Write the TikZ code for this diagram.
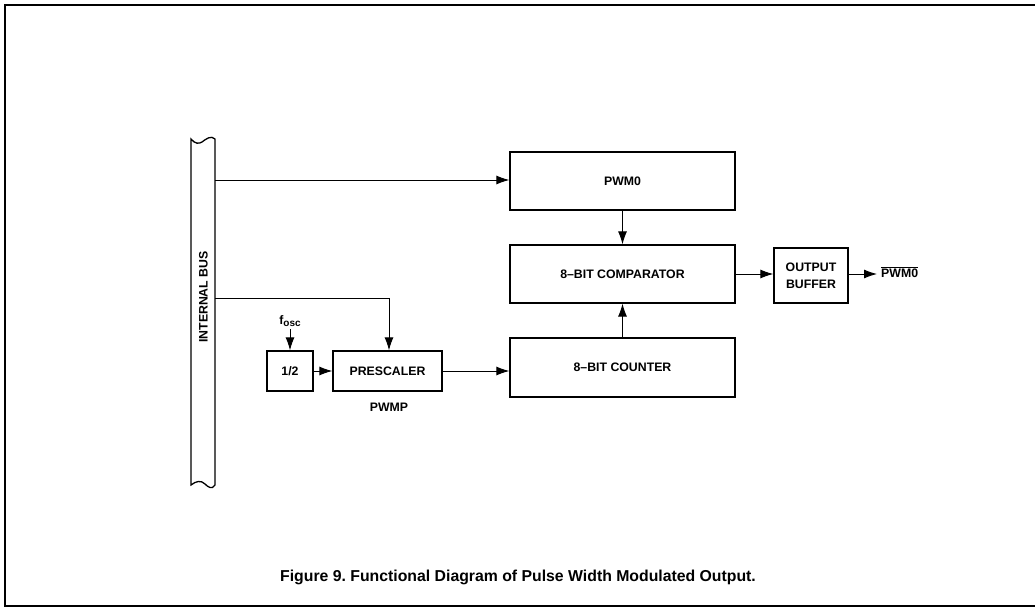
\documentclass[tikz,border=0pt]{standalone}
\usepackage{fontspec}
\setmainfont{Liberation Sans}
\usetikzlibrary{arrows.meta}
\frenchspacing
\begin{document}
\begin{tikzpicture}[x=1pt,y=-1pt,
  blk/.style={draw,line width=1.3pt,inner sep=0pt,font=\fontsize{12.3}{15}\selectfont\bfseries},
  lbl/.style={inner sep=0pt,font=\fontsize{12.3}{15}\selectfont\bfseries},
  conn/.style={line width=0.9pt,-{Latex[length=13pt,width=9pt]}},
  wire/.style={line width=0.9pt}]
\useasboundingbox (0,0) rectangle (1035,609);
% frame
\draw[line width=1.3pt] (1035,5) -- (5,5) -- (5,606) -- (1035,606);
% internal bus
\draw[line width=1.3pt] (191,139) .. controls (195,144) and (199,144) .. (202,142)
  .. controls (206,139) and (211,135) .. (215,139) -- (215,485)
  .. controls (212,490) and (208,487) .. (205,484)
  .. controls (201,480) and (196,481) .. (191,485) -- cycle;
\node[lbl,rotate=90] (busl) at (203.5,297) {INTERNAL BUS};
\coordinate (busA) at (215,180);
\coordinate (busB) at (215,298);
% blocks
\node[blk,minimum width=225pt,minimum height=58pt] (pwm) at (622.5,181) {PWM0};
\node[blk,minimum width=225pt,minimum height=58pt] (cmp) at (622.5,274) {8–BIT COMPARATOR};
\node[blk,minimum width=225pt,minimum height=59pt] (cnt) at (622.5,367.5) {8–BIT COUNTER};
\node[blk,minimum width=74pt,minimum height=55pt,align=center] (buf) at (811,275.5) {OUTPUT\\[2pt]BUFFER};
\node[blk,minimum width=109pt,minimum height=40pt] (pre) at (387.5,371) {PRESCALER};
\node[blk,minimum width=46pt,minimum height=40pt] (half) at (290,371) {1/2};
\node[lbl] (fosc) at (290,321) {f\raisebox{-0.4ex}{\fontsize{10}{11}\selectfont osc}};
\node[lbl] (pwmp) at (389,407) {PWMP};
\node[lbl,anchor=west] (out) at (881,272) {$\overline{\hbox{PWM0}}$};
% connectors
\draw[conn] (busA) -- (busA -| pwm.west);
\draw[wire] (busB) -- (389,298) coordinate (bend);
\draw[conn] (bend) -- (bend |- pre.north);
\draw[conn] (pwm.south) -- (cmp.north);
\draw[conn] (cnt.north) -- (cmp.south);
\draw[conn] (fosc.south) ++(0,2) -- (half.north);
\draw[conn] (half.east) -- (pre.west);
\draw[conn] (pre.east) -- (pre.east -| cnt.west);
\draw[conn] (cmp.east) -- (cmp.east -| buf.west);
\draw[conn] (buf.east |- 0,274) -- (877,274);
% caption
\node[lbl,font=\fontsize{15.8}{18}\selectfont\bfseries] (cap) at (518,577) {Figure 9. Functional Diagram of Pulse Width Modulated Output.};
\end{tikzpicture}
\end{document}
